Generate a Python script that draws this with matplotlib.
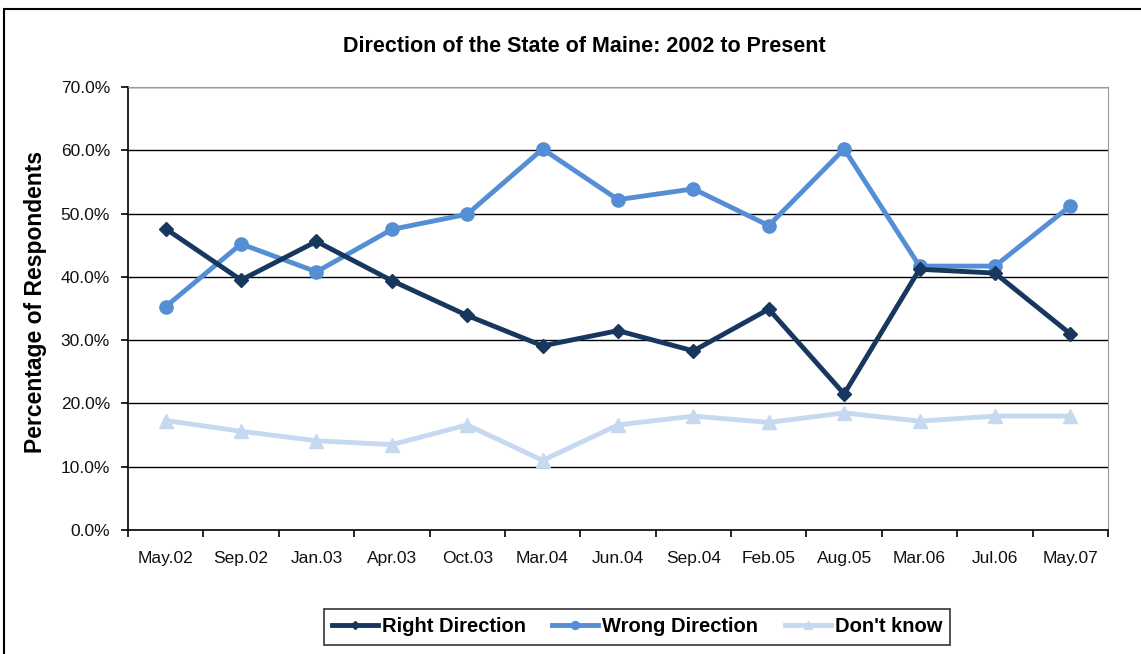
import matplotlib
matplotlib.use("Agg")
import matplotlib.pyplot as plt
from matplotlib.patches import Rectangle

plt.rcParams['font.family'] = ['Liberation Sans', 'DejaVu Sans']

categories = ["May.02", "Sep.02", "Jan.03", "Apr.03", "Oct.03", "Mar.04", "Jun.04",
              "Sep.04", "Feb.05", "Aug.05", "Mar.06", "Jul.06", "May.07"]
right_direction = [47.6, 39.5, 45.6, 39.4, 33.9, 29.1, 31.5, 28.3, 34.9, 21.5, 41.2, 40.6, 31.0]
wrong_direction = [35.3, 45.2, 40.8, 47.5, 49.9, 60.2, 52.2, 53.9, 48.1, 60.2, 41.7, 41.7, 51.2]
dont_know = [17.3, 15.6, 14.1, 13.5, 16.6, 11.0, 16.6, 18.0, 17.0, 18.5, 17.2, 18.0, 18.0]
y_ticks = [0, 10, 20, 30, 40, 50, 60, 70]

fig = plt.figure(figsize=(11.41, 6.54), dpi=100)
ax = fig.add_axes([128/1141, 1-530/654, (1108-128)/1141, (530-87)/654])

x = list(range(len(categories)))
l1, = ax.plot(x, right_direction, color="#17375E", lw=3.5, marker="D", ms=7.5, label="Right Direction", zorder=4)
l2, = ax.plot(x, wrong_direction, color="#558ED5", lw=3.5, marker="o", ms=9.5, label="Wrong Direction", zorder=3)
l3, = ax.plot(x, dont_know, color="#C6D9F1", lw=3.5, marker="^", ms=10, label="Don't know", zorder=2)

ax.set_xlim(-0.5, len(categories) - 0.5)
ax.set_ylim(0, 70)
ax.set_yticks(y_ticks)
ax.set_yticklabels([f"{v:.1f}%" for v in y_ticks], fontsize=12.5, color="#111111")
ax.set_xticks(x)
ax.set_xticklabels(categories, fontsize=12.5, color="#111111")
ax.tick_params(axis='x', which='major', length=0, pad=15)
ax.set_xticks([i - 0.5 for i in range(len(categories) + 1)], minor=True)
ax.tick_params(axis='x', which='minor', length=5, width=1.2, direction='out')
ax.tick_params(axis='y', length=5, width=1.2, direction='out', pad=8)

for v in y_ticks[1:]:
    ax.axhline(v, color="black", lw=1.0, zorder=1)

ax.spines['left'].set_color("black")
ax.spines['left'].set_linewidth(1.2)
ax.spines['bottom'].set_color("black")
ax.spines['bottom'].set_linewidth(1.2)
ax.spines['right'].set_color("#999999")
ax.spines['top'].set_color("#999999")

ax.set_ylabel("Percentage of Respondents", fontsize=16.5, fontweight='bold')
ax.yaxis.set_label_coords((47-128)/980, 0.515)
fig.text(584/1141, 1-47/654, "Direction of the State of Maine: 2002 to Present",
         ha='center', va='center', fontsize=15.5, fontweight='bold')

leg = fig.legend(handles=[l1, l2, l3], loc='center', bbox_to_anchor=(637/1141, 1-627/654),
                 ncol=3, frameon=True, fancybox=False, edgecolor='black',
                 handlelength=2.3, handletextpad=0.2, columnspacing=1.3, borderpad=0.4,
                 markerscale=0.6, prop={'weight': 'bold', 'size': 14.5})
leg.get_frame().set_linewidth(1.2)

fig.patches.append(Rectangle((4/1141, -0.05), 1.1, 1-9/654 + 0.05, transform=fig.transFigure,
                             fill=False, edgecolor='black', lw=1.5))

fig.savefig("out.png", dpi=100)
